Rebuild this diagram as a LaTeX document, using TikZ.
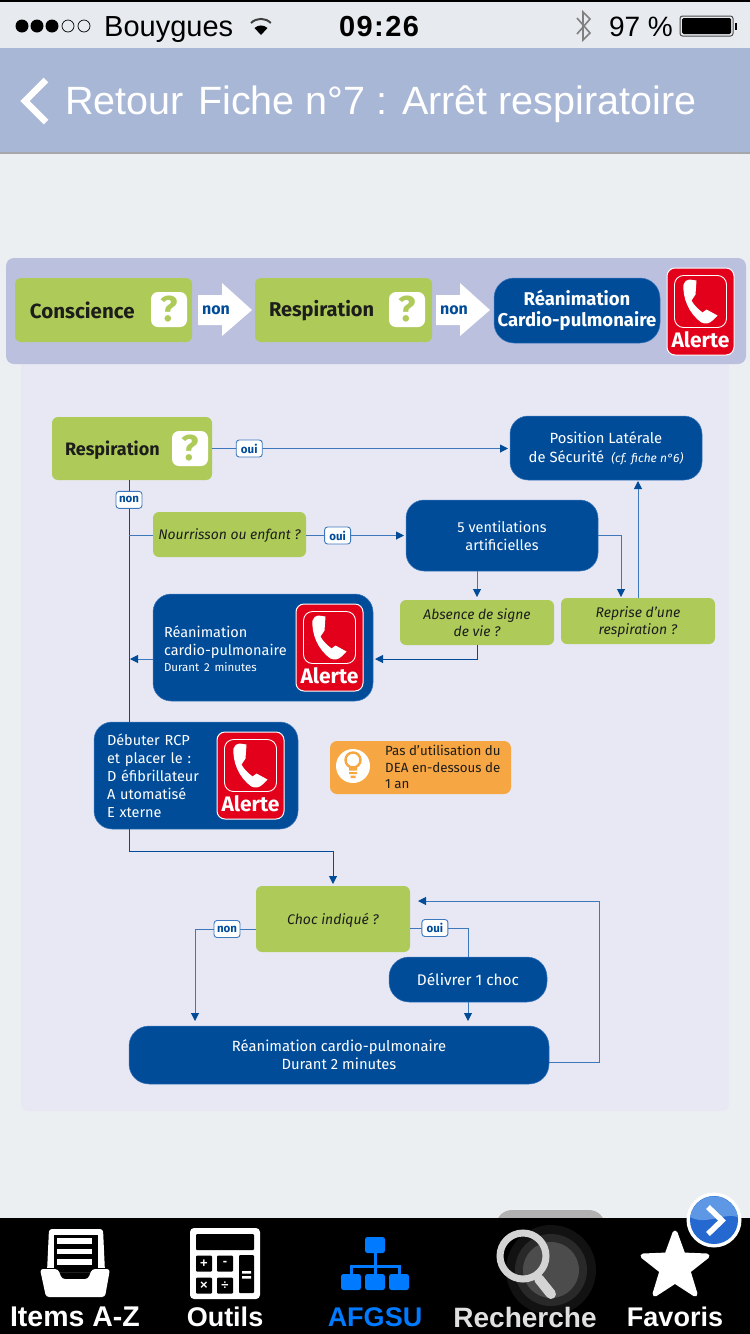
\documentclass[tikz,border=0pt]{standalone}
\usepackage{fontspec}
\setmainfont{Fira Sans}
\newfontfamily\uifont{Liberation Sans}
\newfontfamily\clockfont[LetterSpace=5]{Liberation Sans}
\usetikzlibrary{arrows.meta,calc}
\definecolor{pagebg}{HTML}{EBEFF2}
\definecolor{statusbg}{HTML}{E7EBEF}
\definecolor{navbg}{HTML}{A9B7D6}
\definecolor{navline}{HTML}{A5A7AB}
\definecolor{toppanel}{HTML}{BBC0DF}
\definecolor{lowpanel}{HTML}{E8E8F4}
\definecolor{okgreen}{HTML}{AECB5A}
\definecolor{deepblue}{HTML}{004C99}
\definecolor{linkblue}{HTML}{3D78BD}
\definecolor{alertred}{HTML}{E2001A}
\definecolor{tiporange}{HTML}{F6A643}
\definecolor{inktext}{HTML}{1D1D1B}
\definecolor{tabblue}{HTML}{007AFF}
\definecolor{btnblue}{HTML}{2468D0}
\definecolor{btnlight}{HTML}{5E97E4}
\newcommand{\sz}[1]{\fontsize{#1}{#1}\selectfont}
\newcommand{\szl}[2]{\fontsize{#1}{#2}\selectfont}
\newcommand{\dn}[1]{\rule{0pt}{\dimexpr .74em+#1pt*2\relax}}
% \bx{name}{x1}{y1}{x2}{y2}{style}{text}
\newcommand{\bx}[7]{\node[#6,minimum width={(#4-#2)*1pt},minimum height={(#5-#3)*1pt}] (#1) at ({(#2+#4)/2},{(#3+#5)/2}) {#7};}
\tikzset{
  basebox/.style={inner sep=0pt,outer sep=0pt,align=center,rectangle},
  greenbox/.style={basebox,fill=okgreen,rounded corners=6pt,text=inktext},
  bluebox/.style={basebox,fill=deepblue,draw=linkblue,line width=.5pt,rounded corners=18pt,text=white},
  link/.style={draw=linkblue,line width=1pt},
  arrowlink/.style={link,-{Triangle[width=8pt,length=8pt,color=deepblue]},shorten >=2pt},
  lab/.style={fill=white,draw=linkblue,line width=.9pt,rounded corners=3pt,inner sep=0pt,minimum width=26pt,minimum height=17pt,text=deepblue,font=\bfseries\sz{11.5}},
  tabtxt/.style={font=\uifont\bfseries\sz{27},text=white,inner sep=0pt},
  alertpic/.pic={
    \fill[alertred,draw=white,line width=1pt,rounded corners=8pt] (-33.5,-43.5) rectangle (33.5,43.5);
    \draw[white,line width=.9pt,rounded corners=9pt] (-26,-36) rectangle (26,16);
    \fill[white] (-11,-32) .. controls (-14,-32) and (-16,-30) .. (-17,-27)
      .. controls (-18,-14) and (-12,2) .. (1,11)
      .. controls (5,13) and (9,12) .. (12,9) -- (17,4) -- (6,-2) -- (2,1)
      .. controls (-3,-3) and (-7,-7) .. (-9,-11) -- (-5,-17) -- (-4,-31) -- cycle;
    \node[text=white,font=\bfseries\sz{21},inner sep=0pt] at (0,28) {Alerte};
  },
  qpic/.pic={
    \fill[white,rounded corners=7pt] (-18,-17.5) rectangle (18,17.5);
    \node[text=okgreen,font=\bfseries\sz{36},inner sep=0pt] at (0,0) {?};
  }
}
\begin{document}
\begin{tikzpicture}[x=1pt,y=-1pt]
\useasboundingbox (0,0) rectangle (750,1334);
\fill[pagebg] (0,0) rectangle (750,1334);
% status bar
\fill[statusbg] (0,0) rectangle (750,48);
\fill[black] (0,0) rectangle (750,1.5);
\foreach \px in {22,37,52} \fill[black] (\px,26) circle (6.5);
\foreach \px in {68,84} \draw[black,line width=.7pt] (\px,26) circle (6);
\node[font=\uifont\sz{29},anchor=base west,inner sep=0pt,text=black] (carrier) at (104,36) {Bouygues};
\fill[black] (261,35) -- (254.5,28) arc[start angle=227,end angle=313,radius=9.5] -- cycle;
\draw[black!75,line width=2pt] (251,23) arc[start angle=225,end angle=315,radius=14];
\node[font=\clockfont\bfseries\sz{29},anchor=base,inner sep=0pt,text=black] (clock) at (379,36) {09:26};
\draw[gray,line width=1.6pt] (577,18) -- (590,33) -- (583,40) -- (583,12) -- (590,19) -- (577,34);
\node[font=\uifont\sz{28},anchor=base,inner sep=0pt,text=black] (batt) at (641,36) {97 \%};
\draw[black!70,line width=1pt,rounded corners=2.5pt] (680,16) rectangle (733,36);
\fill[black,rounded corners=1.5pt] (682,18) rectangle (731,34);
\fill[black] (734.5,23) rectangle (737,30);
% nav bar
\fill[navbg] (0,48) rectangle (750,152);
\fill[navline] (0,152) rectangle (750,153.5);
\draw[white,line width=6.5pt] (46,80) -- (25,101) -- (46,122);
\node[font=\uifont\sz{39.5},text=white,anchor=base west,inner sep=0pt] (back) at (65,114) {Retour};
\node[font=\uifont\sz{39.5},text=white,anchor=base west,inner sep=0pt] (title) at (198,114) {Fiche n°7 : Arrêt respiratoire};
% panels
\fill[lowpanel,rounded corners=7pt] (21,350) rectangle (729,1111);
\fill[toppanel,rounded corners=8pt] (6,258) rectangle (746,364);
% top row
\bx{topA}{15}{278}{192}{342}{greenbox,text width=147pt,align=left,font=\bfseries\sz{20.5}}{\dn{0}Conscience}
\bx{topB}{255}{278}{432}{342}{greenbox,text width=149pt,align=left,font=\bfseries\sz{20}}{\dn{1.5}Respiration}
\bx{topC}{494}{278}{660}{343}{bluebox,rounded corners=20pt,font=\bfseries\szl{18.5}{21}}{\dn{1}Réanimation\\Cardio-pulmonaire}
\pic at (169,309.5) {qpic};
\pic at (407,309.5) {qpic};
\pic at (700.5,311.5) {alertpic};
\fill[white] (198,295) -- (222,295) -- (222,283) -- (252,310) -- (222,336) -- (222,325) -- (198,325) -- cycle;
\fill[white] (436,295) -- (460,295) -- (460,283) -- (490,310) -- (460,336) -- (460,325) -- (436,325) -- cycle;
\node[text=deepblue,font=\bfseries\sz{16},anchor=base,inner sep=0pt] (nonA) at (216,314) {non};
\node[text=deepblue,font=\bfseries\sz{16},anchor=base,inner sep=0pt] (nonB) at (454,314) {non};
% flow boxes
\bx{resp}{52}{417}{212}{480}{greenbox,text width=134pt,align=left,font=\bfseries\sz{18}}{\dn{2}Respiration}
\pic at (190,448.5) {qpic};
\bx{pls}{510}{416}{702}{480}{bluebox,font=\szl{14.8}{19}}{\dn{1}Position Latérale\\de Sécurité {\itshape\sz{12} (cf. fiche n°6)}}
\bx{nourr}{153}{512}{306}{557}{greenbox,font=\itshape\sz{13.9}}{\dn{1.5}Nourrisson ou enfant ?}
\bx{vent}{406}{500}{598}{571}{bluebox,font=\szl{14.5}{18}}{5 ventilations\\artificielles}
\bx{absence}{400}{600}{554}{645}{greenbox,font=\itshape\szl{13.9}{17}}{Absence de signe\\de vie ?}
\bx{reprise}{561}{598}{715}{644}{greenbox,font=\itshape\szl{14}{17}}{\dn{1.5}Reprise d'une\\respiration ?}
\bx{rea}{153}{594}{373}{701}{bluebox,text width=198pt,align=left,font=\szl{14.5}{18}}{\dn{1.5}Réanimation\\cardio-pulmonaire\\[-2pt]{\sz{11.5}Durant 2 minutes}}
\pic at (329.5,647.5) {alertpic};
\bx{debut}{94}{722}{298}{829}{bluebox,text width=178pt,align=left,font=\szl{14.5}{18}}{Débuter RCP\\et placer le :\\D éfibrillateur\\A utomatisé\\E xterne}
\pic at (250.5,775.5) {alertpic};
\bx{tip}{330}{741}{511}{794}{basebox,fill=tiporange,rounded corners=7pt}{}
\node[anchor=west,align=left,inner sep=0pt,text=inktext,font=\szl{13.3}{16.5}] (tiptxt) at (385,767) {Pas d’utilisation du\\DEA en-dessous de\\1 an};
\fill[white] (353,766) circle (17);
\draw[tiporange,line width=2.4pt] (353,760) circle (7.5);
\fill[tiporange] (349,766) rectangle (357,770.5) (349,772) rectangle (357,774) (350.5,775.5) rectangle (355.5,778);
\bx{choc}{256}{886}{410}{952}{greenbox,font=\itshape\sz{14}}{\dn{1.5}Choc indiqué ?}
\bx{deliv}{389}{957}{547}{1002}{bluebox,rounded corners=20pt,font=\sz{15.4}}{Délivrer 1 choc}
\bx{rcp}{129}{1026}{549}{1084}{bluebox,rounded corners=20pt,font=\szl{14.8}{18}}{\dn{.5}Réanimation cardio-pulmonaire\\Durant 2 minutes}
% named free points
\coordinate (trunk) at (129,480);
\coordinate (reaIn) at (373,659);
\coordinate (chocL) at (256,929);
\coordinate (chocR) at (410,928);
\coordinate (rcpA) at (195,1026);
\coordinate (rcpB) at (468,1026);
\coordinate (loopB) at (599,1062);
\coordinate (loopT) at (599,901);
\coordinate (repIn) at (621,598);
% connectors
\draw[arrowlink] (resp.east) -- node[lab,pos=.125] (ouiA) {oui} (pls.west |- resp.east);
\draw[link,draw=deepblue] (trunk) -- node[lab,pos=.082] (nonC) {non} (trunk |- debut.north);
\draw[link] (nourr.west |- vent.west) -- (trunk |- vent.west);
\draw[arrowlink] (nourr.east |- vent.west) -- node[lab,pos=.316] (ouiB) {oui} (vent.west);
\draw[arrowlink,shorten >=3pt] (absence.north |- vent.south) -- (absence.north);
\draw[arrowlink,shorten >=1pt] (vent.east) -| (repIn);
\draw[arrowlink,shorten >=1pt] (reprise.north) -- (reprise.north |- pls.south);
\draw[arrowlink,draw=deepblue] (absence.south) |- (reaIn);
\draw[arrowlink,shorten >=1pt] (rea.west |- reaIn) -- (trunk |- reaIn);
\draw[arrowlink,draw=deepblue,shorten >=2pt] (trunk |- debut.south) |- (260,851) -| (choc.north);
\draw[arrowlink,shorten >=5pt] (chocL) -- node[lab,pos=.475] (nonD) {non} (rcpA |- chocL) -- (rcpA);
\draw[link] (chocR) -- node[lab,pos=.43] (ouiC) {oui} (rcpB |- chocR) -- (rcpB |- deliv.north);
\draw[arrowlink,shorten >=5pt] (rcpB |- deliv.south) -- (rcpB);
\draw[arrowlink,shorten >=8pt] (rcp.east |- loopB) -- (loopB) -- (loopT) -- (choc.east |- loopT);
% tab bar
\fill[black!30] (496,1232) -- (496,1226) arc[start angle=180,end angle=270,radius=16] -- (589,1210) arc[start angle=270,end angle=360,radius=16] -- (605,1232) -- cycle;
\fill[black] (0,1218) rectangle (750,1334);
\fill[black!93] (551,1270) circle (45);
\fill[black!84] (551,1270) circle (36);
\fill[black!70] (551,1270) circle (28);
% tray icon
\fill[white,rounded corners=3pt] (49,1229) -- (103,1229) -- (105,1272) -- (47,1272) -- cycle;
\fill[black] (54,1235) rectangle (98,1272);
\foreach \py in {1241,1251.5,1262} \fill[white] (57,\py-2.7) rectangle (92,\py+2.7);
\fill[black] (40,1268) rectangle (110,1272);
\fill[white,rounded corners=3pt] (40,1269) -- (58,1269) -- (62,1279) -- (88,1279) -- (92,1269) -- (110,1269) -- (105,1297) -- (46,1297) -- cycle;
% calculator icon
\fill[white,rounded corners=4pt] (190,1228) rectangle (260,1299);
\fill[black,rounded corners=1pt] (196,1234) rectangle (254,1250);
\foreach \qx/\qy/\sym in {196/1255/+,217/1255/-,196/1277/×,217/1277/÷}
  \node[fill=black,text=white,minimum size=16pt,inner sep=0pt,rounded corners=1pt,font=\uifont\bfseries\sz{13}] at (\qx+8,\qy+8.5) {\sym};
\fill[black,rounded corners=1pt] (239,1255) rectangle (254,1293);
\fill[white] (242,1271) rectangle (251,1273.5) (242,1276) rectangle (251,1278.5);
% hierarchy icon
\draw[tabblue,line width=3pt] (375,1250) -- (375,1275) (351,1275) -- (351,1266) -- (399,1266) -- (399,1275);
\fill[tabblue,rounded corners=2.5pt] (365,1237) rectangle (385,1253);
\foreach \hx in {351,375,399} \fill[tabblue,rounded corners=2.5pt] (\hx-10,1274) rectangle (\hx+10,1290);
% magnifier icon
\draw[black!17,line width=7pt] (523,1256) circle (23);
\draw[black!17,line width=10pt,line cap=round] (539,1279) -- (551,1294);
% star icon
\fill[white,draw=white,line width=5pt,line join=round] (675,1233)
  -- (683,1255) -- (707,1256) -- (688,1271) -- (695,1294) -- (675,1281) -- (655,1294) -- (662,1271) -- (643,1256) -- (667,1255) -- cycle;
% tab labels
\node[tabtxt,font=\uifont\bfseries\sz{28.5}] (tabA) at (75,1317) {Items A-Z};
\node[tabtxt] (tabB) at (225,1317) {Outils};
\node[tabtxt,text=tabblue] (tabC) at (375,1317) {AFGSU};
\node[tabtxt,text=black!12,font=\uifont\bfseries\sz{28}] (tabD) at (525,1317) {Recherche};
\node[tabtxt] (tabE) at (675,1317) {Favoris};
% floating button
\fill[white] (714,1220) circle (27.5);
\fill[btnblue] (714,1220) circle (24);
\fill[btnlight] (690.3,1217) arc[start angle=188,end angle=352,radius=24] .. controls (725,1212) and (705,1226) .. cycle;
\draw[white,line width=5.5pt] (708,1207) -- (722,1220.5) -- (708,1234);
\end{tikzpicture}
\end{document}
